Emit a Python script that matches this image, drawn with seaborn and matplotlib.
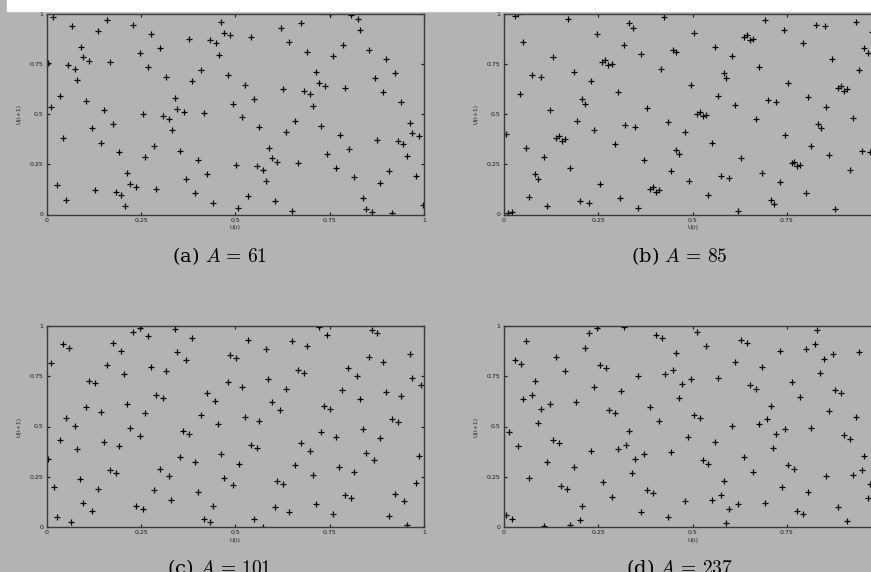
import matplotlib
matplotlib.use('Agg')
import matplotlib.pyplot as plt
import matplotlib.patches as mpatches
import pandas as pd
import seaborn as sns

# (U(i), U(i+1)) pairs
pts_61 = [
    (0.018, 0.983), (0.066, 0.937), (0.159, 0.967), (0.137, 0.912), (0.230, 0.945), (0.277, 0.897),
    (0.090, 0.835), (0.003, 0.752), (0.097, 0.782), (0.113, 0.765), (0.168, 0.759), (0.057, 0.742),
    (0.075, 0.725), (0.081, 0.669), (0.246, 0.804), (0.300, 0.827), (0.268, 0.734), (0.316, 0.686),
    (0.377, 0.875), (0.433, 0.867), (0.448, 0.852), (0.462, 0.960), (0.471, 0.904), (0.486, 0.892),
    (0.457, 0.795), (0.410, 0.717), (0.386, 0.662), (0.480, 0.694), (0.034, 0.591), (0.011, 0.534),
    (0.104, 0.567), (0.152, 0.521), (0.043, 0.381), (0.121, 0.428), (0.144, 0.356), (0.175, 0.449),
    (0.254, 0.498), (0.340, 0.582), (0.346, 0.527), (0.363, 0.512), (0.307, 0.489), (0.324, 0.474),
    (0.331, 0.418), (0.416, 0.504), (0.494, 0.552), (0.191, 0.309), (0.284, 0.341), (0.261, 0.288),
    (0.354, 0.318), (0.401, 0.270), (0.502, 0.248), (0.027, 0.145), (0.050, 0.072), (0.128, 0.120),
    (0.183, 0.111), (0.198, 0.098), (0.207, 0.042), (0.214, 0.206), (0.221, 0.153), (0.237, 0.136),
    (0.291, 0.128), (0.370, 0.175), (0.394, 0.105), (0.424, 0.200), (0.440, 0.058), (0.507, 0.032),
    (0.620, 0.928), (0.674, 0.952), (0.751, 0.998), (0.807, 0.992), (0.824, 0.975), (0.831, 0.920),
    (0.541, 0.882), (0.643, 0.859), (0.690, 0.810), (0.760, 0.789), (0.784, 0.844), (0.853, 0.819),
    (0.899, 0.772), (0.923, 0.702), (0.869, 0.677), (0.713, 0.710), (0.721, 0.656), (0.738, 0.639),
    (0.525, 0.646), (0.627, 0.622), (0.681, 0.616), (0.698, 0.599), (0.790, 0.631), (0.892, 0.607),
    (0.549, 0.574), (0.706, 0.542), (0.939, 0.559), (0.517, 0.483), (0.564, 0.434), (0.658, 0.466),
    (0.635, 0.409), (0.727, 0.441), (0.777, 0.394), (0.963, 0.456), (0.969, 0.403), (0.986, 0.389),
    (0.876, 0.373), (0.930, 0.364), (0.945, 0.349), (0.588, 0.333), (0.596, 0.280), (0.611, 0.261),
    (0.744, 0.301), (0.800, 0.326), (0.954, 0.293), (0.667, 0.255), (0.768, 0.231), (0.557, 0.243),
    (0.572, 0.223), (0.581, 0.166), (0.814, 0.185), (0.908, 0.215), (0.884, 0.158), (0.978, 0.191),
    (0.534, 0.090), (0.604, 0.065), (0.650, 0.017), (0.837, 0.082), (0.845, 0.027), (0.861, 0.012),
    (0.916, 0.005), (0.998, 0.048),
]

pts_85 = [
    (0.029, 0.990), (0.036, 0.997), (0.169, 0.973), (0.332, 0.952), (0.341, 0.927), (0.425, 0.983),
    (0.051, 0.859), (0.247, 0.897), (0.317, 0.844), (0.364, 0.797), (0.449, 0.820), (0.129, 0.782),
    (0.261, 0.760), (0.268, 0.769), (0.276, 0.742), (0.285, 0.750), (0.185, 0.710), (0.075, 0.694),
    (0.098, 0.686), (0.231, 0.662), (0.416, 0.725), (0.043, 0.599), (0.301, 0.607), (0.208, 0.576),
    (0.216, 0.552), (0.122, 0.521), (0.378, 0.529), (0.193, 0.466), (0.322, 0.443), (0.347, 0.434),
    (0.434, 0.458), (0.005, 0.401), (0.137, 0.383), (0.145, 0.389), (0.154, 0.366), (0.162, 0.374),
    (0.239, 0.419), (0.058, 0.333), (0.293, 0.349), (0.106, 0.288), (0.457, 0.323), (0.175, 0.231),
    (0.370, 0.271), (0.082, 0.201), (0.091, 0.176), (0.442, 0.215), (0.254, 0.153), (0.388, 0.128),
    (0.394, 0.138), (0.402, 0.113), (0.411, 0.121), (0.067, 0.088), (0.114, 0.042), (0.201, 0.065),
    (0.224, 0.058), (0.308, 0.082), (0.356, 0.033), (0.010, 0.005), (0.020, 0.012),
    (0.692, 0.968), (0.742, 0.920), (0.827, 0.945), (0.850, 0.937), (0.932, 0.958), (0.975, 0.910),
    (0.504, 0.905), (0.636, 0.884), (0.645, 0.892), (0.652, 0.867), (0.661, 0.875), (0.792, 0.852),
    (0.455, 0.810), (0.559, 0.835), (0.605, 0.789), (0.675, 0.734), (0.870, 0.774), (0.955, 0.829),
    (0.964, 0.804), (0.941, 0.717), (0.582, 0.702), (0.589, 0.677), (0.496, 0.646), (0.754, 0.656),
    (0.885, 0.629), (0.893, 0.639), (0.901, 0.616), (0.909, 0.624), (0.566, 0.591), (0.613, 0.544),
    (0.699, 0.569), (0.722, 0.561), (0.807, 0.584), (0.854, 0.536), (0.512, 0.502), (0.519, 0.512),
    (0.527, 0.491), (0.535, 0.497), (0.668, 0.474), (0.925, 0.481), (0.831, 0.451), (0.839, 0.428),
    (0.481, 0.411), (0.746, 0.394), (0.550, 0.356), (0.465, 0.301), (0.815, 0.341), (0.862, 0.295),
    (0.949, 0.318), (0.970, 0.309), (0.628, 0.280), (0.762, 0.255), (0.769, 0.261), (0.777, 0.240),
    (0.785, 0.248), (0.918, 0.223), (0.490, 0.166), (0.574, 0.191), (0.597, 0.183), (0.685, 0.206),
    (0.732, 0.160), (0.542, 0.097), (0.800, 0.105), (0.707, 0.073), (0.715, 0.050), (0.621, 0.018),
    (0.877, 0.025),
]

pts_101 = [
    (0.011, 0.815), (0.042, 0.909), (0.058, 0.892), (0.175, 0.917), (0.230, 0.972), (0.248, 0.992),
    (0.268, 0.949), (0.340, 0.987), (0.386, 0.940), (0.197, 0.877), (0.345, 0.869), (0.369, 0.829),
    (0.159, 0.806), (0.276, 0.798), (0.316, 0.775), (0.206, 0.760), (0.112, 0.728), (0.127, 0.714),
    (0.003, 0.338), (0.020, 0.197), (0.027, 0.050), (0.065, 0.026), (0.035, 0.434), (0.050, 0.541),
    (0.074, 0.503), (0.081, 0.386), (0.104, 0.596), (0.089, 0.237), (0.097, 0.121), (0.121, 0.081),
    (0.136, 0.190), (0.145, 0.573), (0.151, 0.425), (0.168, 0.283), (0.183, 0.267), (0.191, 0.401),
    (0.214, 0.613), (0.221, 0.495), (0.238, 0.104), (0.246, 0.455), (0.254, 0.089), (0.261, 0.565),
    (0.291, 0.657), (0.307, 0.642), (0.299, 0.291), (0.324, 0.253), (0.284, 0.182), (0.330, 0.136),
    (0.354, 0.348), (0.362, 0.480), (0.377, 0.465), (0.393, 0.323), (0.401, 0.174), (0.409, 0.558),
    (0.424, 0.666), (0.447, 0.629), (0.455, 0.512), (0.463, 0.361), (0.471, 0.245), (0.440, 0.104),
    (0.417, 0.038), (0.432, 0.023), (0.481, 0.722), (0.486, 0.854), (0.502, 0.839), (0.495, 0.207),
    (0.509, 0.315),
    (0.534, 0.932), (0.580, 0.884), (0.650, 0.924), (0.690, 0.901), (0.721, 0.997), (0.744, 0.955),
    (0.862, 0.978), (0.876, 0.964), (0.518, 0.697), (0.587, 0.735), (0.635, 0.689), (0.666, 0.783),
    (0.681, 0.768), (0.799, 0.791), (0.823, 0.752), (0.854, 0.846), (0.892, 0.823), (0.962, 0.863),
    (0.968, 0.743), (0.992, 0.705), (0.783, 0.682), (0.899, 0.674), (0.939, 0.651), (0.596, 0.621),
    (0.619, 0.583), (0.736, 0.604), (0.751, 0.588), (0.830, 0.636), (0.525, 0.548), (0.563, 0.528),
    (0.915, 0.536), (0.931, 0.520), (0.728, 0.472), (0.767, 0.449), (0.837, 0.488), (0.884, 0.442),
    (0.541, 0.409), (0.557, 0.394), (0.674, 0.417), (0.697, 0.377), (0.845, 0.369), (0.868, 0.331),
    (0.986, 0.354), (0.657, 0.306), (0.705, 0.260), (0.775, 0.300), (0.814, 0.275), (0.611, 0.228),
    (0.627, 0.214), (0.978, 0.220), (0.790, 0.159), (0.806, 0.142), (0.923, 0.166), (0.946, 0.127),
    (0.604, 0.098), (0.643, 0.073), (0.713, 0.113), (0.760, 0.066), (0.907, 0.056), (0.549, 0.041),
    (0.572, 0.002), (0.955, 0.010),
]

pts_237 = [
    (0.005, 0.058), (0.021, 0.041), (0.106, 0.003), (0.175, 0.012), (0.201, 0.035), (0.208, 0.104),
    (0.012, 0.472), (0.036, 0.401), (0.067, 0.245), (0.090, 0.518), (0.098, 0.588), (0.114, 0.323),
    (0.122, 0.613), (0.129, 0.434), (0.145, 0.417), (0.152, 0.205), (0.168, 0.190), (0.185, 0.300),
    (0.192, 0.621), (0.231, 0.377), (0.239, 0.697), (0.262, 0.222), (0.285, 0.151), (0.301, 0.386),
    (0.278, 0.583), (0.293, 0.565), (0.309, 0.675), (0.324, 0.409), (0.332, 0.480), (0.340, 0.268),
    (0.348, 0.339), (0.355, 0.752), (0.364, 0.075), (0.370, 0.363), (0.379, 0.182), (0.387, 0.598),
    (0.394, 0.167), (0.411, 0.528), (0.426, 0.760), (0.435, 0.050), (0.442, 0.371), (0.449, 0.783),
    (0.457, 0.864), (0.464, 0.642), (0.402, 0.957), (0.418, 0.940), (0.317, 0.997), (0.247, 0.988),
    (0.225, 0.965), (0.216, 0.892), (0.138, 0.846), (0.059, 0.924), (0.029, 0.829), (0.045, 0.813),
    (0.083, 0.728), (0.051, 0.636), (0.075, 0.657), (0.161, 0.775), (0.254, 0.806), (0.270, 0.790),
    (0.512, 0.970), (0.829, 0.980), (0.535, 0.902), (0.628, 0.932), (0.644, 0.917), (0.731, 0.877),
    (0.800, 0.886), (0.824, 0.909), (0.847, 0.838), (0.871, 0.863), (0.941, 0.869), (0.613, 0.823),
    (0.684, 0.798), (0.838, 0.768), (0.472, 0.712), (0.495, 0.735), (0.566, 0.743), (0.652, 0.705),
    (0.668, 0.689), (0.762, 0.720), (0.785, 0.649), (0.878, 0.680), (0.894, 0.666), (0.707, 0.604),
    (0.862, 0.575), (0.932, 0.548), (0.504, 0.558), (0.519, 0.541), (0.605, 0.503), (0.675, 0.512),
    (0.698, 0.535), (0.745, 0.488), (0.815, 0.495), (0.722, 0.464), (0.901, 0.457), (0.917, 0.440),
    (0.489, 0.447), (0.559, 0.424), (0.714, 0.394), (0.955, 0.353), (0.527, 0.331), (0.542, 0.315),
    (0.636, 0.348), (0.753, 0.306), (0.769, 0.290), (0.949, 0.283), (0.970, 0.214), (0.661, 0.275),
    (0.854, 0.253), (0.925, 0.260), (0.582, 0.228), (0.737, 0.197), (0.807, 0.174), (0.964, 0.142),
    (0.480, 0.129), (0.550, 0.136), (0.574, 0.159), (0.597, 0.089), (0.621, 0.113), (0.691, 0.121),
    (0.777, 0.081), (0.792, 0.066), (0.885, 0.098), (0.909, 0.028), (0.589, 0.020),
]

captions = [r'(a) $A\,=\,61$', r'(b) $A\,=\,85$', r'(c) $A\,=\,101$', r'(d) $A\,=\,237$']
tick_vals = [0, 0.25, 0.5, 0.75, 1]
tick_labels = ['0', '0.25', '0.5', '0.75', '1']

bg = '#b3b3b3'
sns.set_style('ticks')
plt.rcParams['font.family'] = ['DejaVu Sans']
plt.rcParams['mathtext.fontset'] = 'cm'

fig = plt.figure(figsize=(8.71, 5.72), dpi=100, facecolor=bg)
# white strip along the top edge of the scan
fig.patches.append(mpatches.Rectangle((7 / 871, 1 - 11 / 572), 1, 11 / 572,
                                      transform=fig.transFigure, color='white', zorder=0))

W, H = 871, 572
ax_w, ax_h = 377.3 / W, 201 / H
positions = [(46.7 / W, 1 - 214.5 / H), (504 / W, 1 - 214.5 / H),
             (46.7 / W, 1 - 527 / H), (504 / W, 1 - 527 / H)]
cap_pos = [(219.5 / W, 1 - 256 / H), (679 / W, 1 - 256 / H),
           (219.5 / W, 1 - 568 / H), (679 / W, 1 - 568 / H)]

for i, (pts, pos, cap, cpos) in enumerate(zip([pts_61, pts_85, pts_101, pts_237],
                                               positions, captions, cap_pos)):
    ax = fig.add_axes([pos[0], pos[1], ax_w, ax_h])
    ax.set_facecolor(bg)
    df = pd.DataFrame(pts, columns=['U(i)', 'U(i+1)'])
    sns.scatterplot(data=df, x='U(i)', y='U(i+1)', marker='+', color='black',
                    s=24, linewidth=0.9, ax=ax)
    ax.set_xlim(0, 1)
    ax.set_ylim(0, 1)
    ax.set_xticks(tick_vals)
    # right-hand panels run past the page edge, so their last x label is never seen
    ax.set_xticklabels(tick_labels if i % 2 == 0 else tick_labels[:-1] + [''])
    ax.set_yticks(tick_vals)
    ax.set_yticklabels(tick_labels)
    ax.tick_params(direction='in', length=2.5, width=0.8, labelsize=4.5, pad=2.5,
                   top=True, right=True, colors='#1a1a1a')
    ax.set_xlabel('U(i)', fontsize=4.5, labelpad=1.5)
    ax.set_ylabel('U(i+1)', fontsize=4.5, labelpad=6)
    for sp in ax.spines.values():
        sp.set_visible(True)
        sp.set_linewidth(1.0)
        sp.set_color('#3a3a3a')
    fig.text(cpos[0], cpos[1], cap, ha='center', va='center', fontsize=14,
             family='serif', color='black', math_fontfamily='cm')

fig.savefig('out.png', dpi=100, facecolor=bg)
